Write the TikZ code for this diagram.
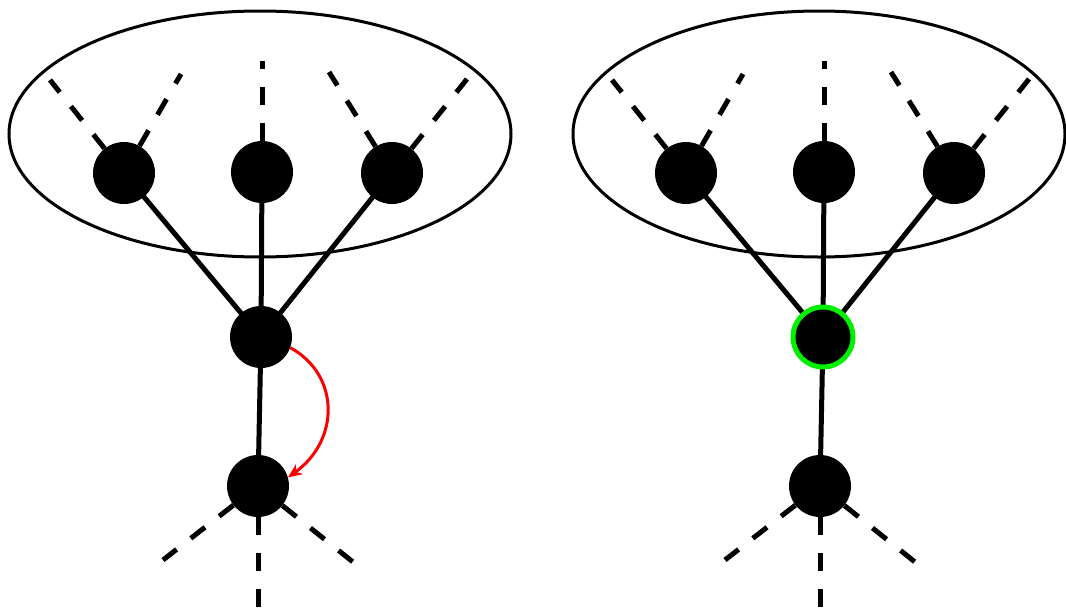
\documentclass[tikz,border=0pt]{standalone}
\usetikzlibrary{arrows.meta,backgrounds}
\definecolor{ringgreen}{RGB}{0,240,0}
\definecolor{arrowred}{RGB}{250,0,0}
\begin{document}
\begin{tikzpicture}[x=1pt,y=-1pt,
  vertex/.style={circle,fill=black,inner sep=0pt,minimum size=62pt},
  tree/.style={line width=5pt},
  stub/.style={line width=5pt,dash pattern=on 18pt off 18pt},
  group/.style={line width=3pt},
  ring/.style={draw=ringgreen,line width=5pt,minimum size=60pt},
  swap/.style={draw=arrowred,line width=3pt,-{Stealth[length=14pt,width=12pt]}}]
\useasboundingbox (0,0) rectangle (1066,608);
\foreach \s/\p/\ex/\rx in {0/L/260/251,562/R/257/246}{
  \begin{scope}[xshift=\s pt]
    \node[vertex] (\p a) at (124,173) {};
    \node[vertex] (\p b) at (262,172) {};
    \node[vertex] (\p c) at (392,173) {};
    \node[vertex] (\p m) at (261,337) {};
    \node[vertex] (\p d) at (258,486) {};
    \coordinate (\p a1) at (50,80);
    \coordinate (\p a2) at (181,74);
    \coordinate (\p b1) at (262,61);
    \coordinate (\p c1) at (329,72);
    \coordinate (\p c2) at (467,79);
    \coordinate (\p d1) at (163,560);
    \coordinate (\p d2) at (353,562);
    \coordinate (\p d3) at (258,612);
    \begin{pgfonlayer}{background}
      \draw[group] (\ex,134) ellipse [x radius=\rx, y radius=123];
      \draw[tree] (\p a.center) -- (\p m.center);
      \draw[tree] (\p b.center) -- (\p m.center);
      \draw[tree] (\p c.center) -- (\p m.center);
      \draw[tree] (\p m.center) -- (\p d.center);
      \draw[stub] (\p a) -- (\p a1);
      \draw[stub] (\p a) -- (\p a2);
      \draw[stub] (\p b) -- (\p b1);
      \draw[stub] (\p c) -- (\p c1);
      \draw[stub] (\p c) -- (\p c2);
      \draw[stub] (\p d) -- (\p d1);
      \draw[stub] (\p d) -- (\p d2);
      \draw[stub] (\p d) -- (\p d3);
    \end{pgfonlayer}
  \end{scope}
}
% moved link on the left tree
\draw[swap] (Lm.-20) .. controls (340,375) and (340,440) .. (Ld.16);
% highlighted vertex on the right tree
\node[vertex,ring] at (Rm) {};
\end{tikzpicture}
\end{document}
